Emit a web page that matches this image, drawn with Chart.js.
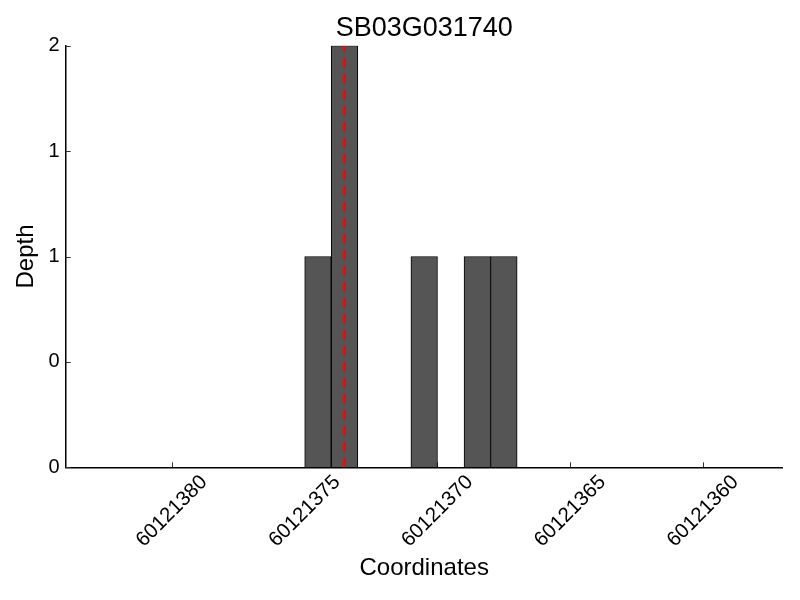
<!DOCTYPE html>
<html><head><meta charset="utf-8">
<script src="https://cdn.jsdelivr.net/npm/chart.js@4"></script>
<style>html,body{margin:0;padding:0;background:#fff}#wrap{width:800px;height:600px}</style>
</head><body><div id="wrap"><canvas id="c" width="800" height="600"></canvas></div>
<script>
const chartTitle = 'SB03G031740';
const xAxisTitle = 'Coordinates';
const yAxisTitle = 'Depth';
const binStarts = [60121374, 60121373, 60121370, 60121368, 60121367];
const depths = [1, 2, 1, 1, 1];
const markerPosition = 60121373.5;
const xTickValues = [60121380, 60121375, 60121370, 60121365, 60121360];
const yTickValues = [0, 0.5, 1, 1.5, 2];
const xMin = 60121357, xMax = 60121384;
const yMin = 0, yMax = 2;

const FONT = "'Liberation Sans', Arial, Helvetica, sans-serif";
Chart.defaults.font.family = FONT;
Chart.defaults.color = '#000';

const tickPlugin = {
  id: 'inwardTicks',
  beforeDatasetsDraw(chart) {
    const {ctx, chartArea, scales} = chart;
    ctx.save();
    ctx.strokeStyle = '#333';
    ctx.lineWidth = 1;
    ctx.beginPath();
    xTickValues.forEach(v => {
      const px = Math.round(scales.x.getPixelForValue(v)) + 0.5;
      ctx.moveTo(px, chartArea.bottom);
      ctx.lineTo(px, chartArea.bottom - 5);
    });
    yTickValues.forEach(v => {
      const py = Math.round(scales.y.getPixelForValue(v)) + 0.5;
      ctx.moveTo(chartArea.left, py);
      ctx.lineTo(chartArea.left + 5, py);
    });
    ctx.stroke();
    ctx.restore();
  },
  afterDraw(chart) {
    const {ctx, chartArea, scales} = chart;
    ctx.save();
    ctx.fillStyle = '#000';
    ctx.font = '20.5px ' + FONT;
    ctx.textAlign = 'center';
    ctx.textBaseline = 'middle';
    xTickValues.forEach(v => {
      const px = scales.x.getPixelForValue(v);
      ctx.save();
      ctx.translate(px, chartArea.bottom + 44);
      ctx.rotate(-Math.PI / 4);
      ctx.fillText(String(v), 0, 0);
      ctx.restore();
    });
    ctx.restore();
  }
};

new Chart(document.getElementById('c'), {
  data: {
    datasets: [
      {
        type: 'line',
        order: 0,
        data: [{x: markerPosition, y: yMin}, {x: markerPosition, y: yMax}],
        borderColor: '#ff0000',
        borderWidth: 2.5,
        borderDash: [9, 7],
        pointRadius: 0,
        fill: false
      },
      {
        type: 'bar',
        order: 1,
        data: binStarts.map((s, i) => ({x: s + 0.5, y: depths[i]})),
        backgroundColor: '#555555',
        borderColor: '#000000',
        borderWidth: 1,
        barPercentage: 1,
        categoryPercentage: 1
      }
    ]
  },
  options: {
    responsive: false,
    animation: false,
    devicePixelRatio: 1,
    layout: {padding: {left: 0, right: 17.3, top: 0, bottom: 0}},
    plugins: {
      legend: {display: false},
      tooltip: {enabled: false},
      title: {
        display: true,
        text: chartTitle,
        fullSize: false,
        color: '#000',
        font: {size: 27, weight: 'normal', family: FONT},
        padding: {top: 12.7, bottom: 0.6}
      }
    },
    scales: {
      x: {
        type: 'linear',
        reverse: true,
        offset: false,
        min: xMin,
        max: xMax,
        afterBuildTicks: s => { s.ticks = xTickValues.map(v => ({value: v})); },
        afterFit: s => { s.height = 132.7; },
        ticks: {display: false},
        grid: {display: false, drawTicks: false, offset: false},
        border: {display: true, color: '#000', width: 1.5},
        title: {
          display: true,
          text: xAxisTitle,
          color: '#000',
          font: {size: 24, family: FONT},
          padding: {top: 0, bottom: 17}
        }
      },
      y: {
        type: 'linear',
        min: yMin,
        max: yMax,
        afterBuildTicks: s => { s.ticks = yTickValues.map(v => ({value: v})); },
        afterFit: s => { s.width = 65.7; },
        ticks: {
          callback: v => String(Math.floor(v)),
          font: {size: 20, family: FONT},
          color: '#000',
          padding: 6
        },
        grid: {display: false, drawTicks: false},
        border: {display: true, color: '#000', width: 1.5},
        title: {
          display: true,
          text: yAxisTitle,
          color: '#000',
          font: {size: 24, family: FONT},
          padding: {top: 12, bottom: 0}
        }
      }
    }
  },
  plugins: [tickPlugin]
});
</script>
</body></html>
